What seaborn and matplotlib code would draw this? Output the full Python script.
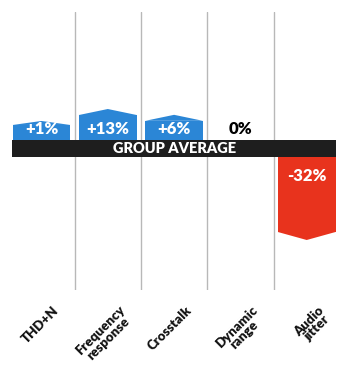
import matplotlib
matplotlib.use("Agg")
import matplotlib.pyplot as plt
import seaborn as sns
import pandas as pd
import numpy as np
from matplotlib.transforms import ScaledTranslation

# ---- data ----
categories = ["THD+N", "Frequency\nresponse", "Crosstalk", "Dynamic\nrange", "Audio\njitter"]
values = [1, 13, 6, 0, -32]
value_labels = ["+1%", "+13%", "+6%", "0%", "-32%"]

# ---- styling ----
BLUE = "#2b86d6"
RED = "#e8331d"
BAND = "#1e1e1e"
GRID = "#b8b8b8"
FONT = ["Lato", "DejaVu Sans"]
BAND_HALF = 8.5
PAD = 22.7
K_POS, K_NEG = 0.83, 1.9
TIP = 6


def display_len(v):
    if v == 0:
        return 0.0
    if v > 0:
        return PAD + K_POS * v
    return -(PAD + K_NEG * abs(v))


df = pd.DataFrame({
    "category": categories,
    "value": values,
    "length": [display_len(v) for v in values],
})
colors = [BLUE if v > 0 else (RED if v < 0 else "white") for v in values]

sns.set_theme(style="white")
plt.rcParams["font.family"] = FONT

fig = plt.figure(figsize=(3.45, 3.71), dpi=100)
fig.patch.set_facecolor("white")
ax = fig.add_axes([0, 81 / 371, 1, 278 / 371])
ax.set_facecolor("white")

sns.barplot(data=df, x="category", y="length", hue="category", palette=colors,
            legend=False, width=0.87, ax=ax, zorder=2, saturation=1, linewidth=0)

# pointed tips on each bar
for patch, v in zip(ax.patches, values):
    if v == 0:
        continue
    x0 = patch.get_x()
    w = patch.get_width()
    h = patch.get_height()
    y_end = patch.get_y() + h
    tip = TIP if v > 0 else -8
    if v == 1:
        tip = 4
    ax.fill([x0, x0 + w / 2, x0 + w], [y_end, y_end + tip, y_end],
            color=patch.get_facecolor(), lw=0, zorder=2)

# column separators
for xv in np.arange(0.5, len(categories) - 0.5, 1):
    ax.axvline(xv, color=GRID, lw=1.0, zorder=1)

# group-average band
first = ax.patches[0]
last = ax.patches[len(values) - 1]
ax.fill_between([first.get_x() - 0.01, last.get_x() + last.get_width()],
                -BAND_HALF, BAND_HALF, color=BAND, lw=0, zorder=3)
ax.text((first.get_x() + last.get_x() + last.get_width()) / 2, -0.5, "GROUP AVERAGE",
        color="white", fontsize=10.5, fontweight="heavy", ha="center", va="center",
        zorder=4)

# value labels
for i, (v, lab) in enumerate(zip(values, value_labels)):
    if v > 0:
        ax.text(i, 19.5, lab, color="white", fontsize=12, fontweight="heavy",
                ha="center", va="center", zorder=4)
    elif v == 0:
        ax.text(i, 19, lab, color="black", fontsize=12, fontweight="heavy",
                ha="center", va="center", zorder=4)
    else:
        ax.text(i, -27.5, lab, color="white", fontsize=12, fontweight="heavy",
                ha="center", va="center", zorder=4)

ax.set_xlim(-41.5 / 66.3, (345 - 41.5) / 66.3)
ax.set_ylim(-141.5, 136.5)
ax.set_yticks([])
ax.set_xlabel("")
ax.set_ylabel("")
for s in ax.spines.values():
    s.set_visible(False)

ax.tick_params(axis="x", length=0, pad=10)
ax.set_xticks(range(len(categories)))
ax.set_xticklabels(categories, rotation=45, ha="right", va="top",
                   rotation_mode="anchor", fontsize=9.5, fontweight="heavy",
                   multialignment="center", linespacing=0.85, color="#111111")
offset = ScaledTranslation(11 / 100, 0, fig.dpi_scale_trans)
for lbl in ax.get_xticklabels():
    lbl.set_transform(lbl.get_transform() + offset)

fig.savefig("out.png", dpi=100, facecolor="white")
